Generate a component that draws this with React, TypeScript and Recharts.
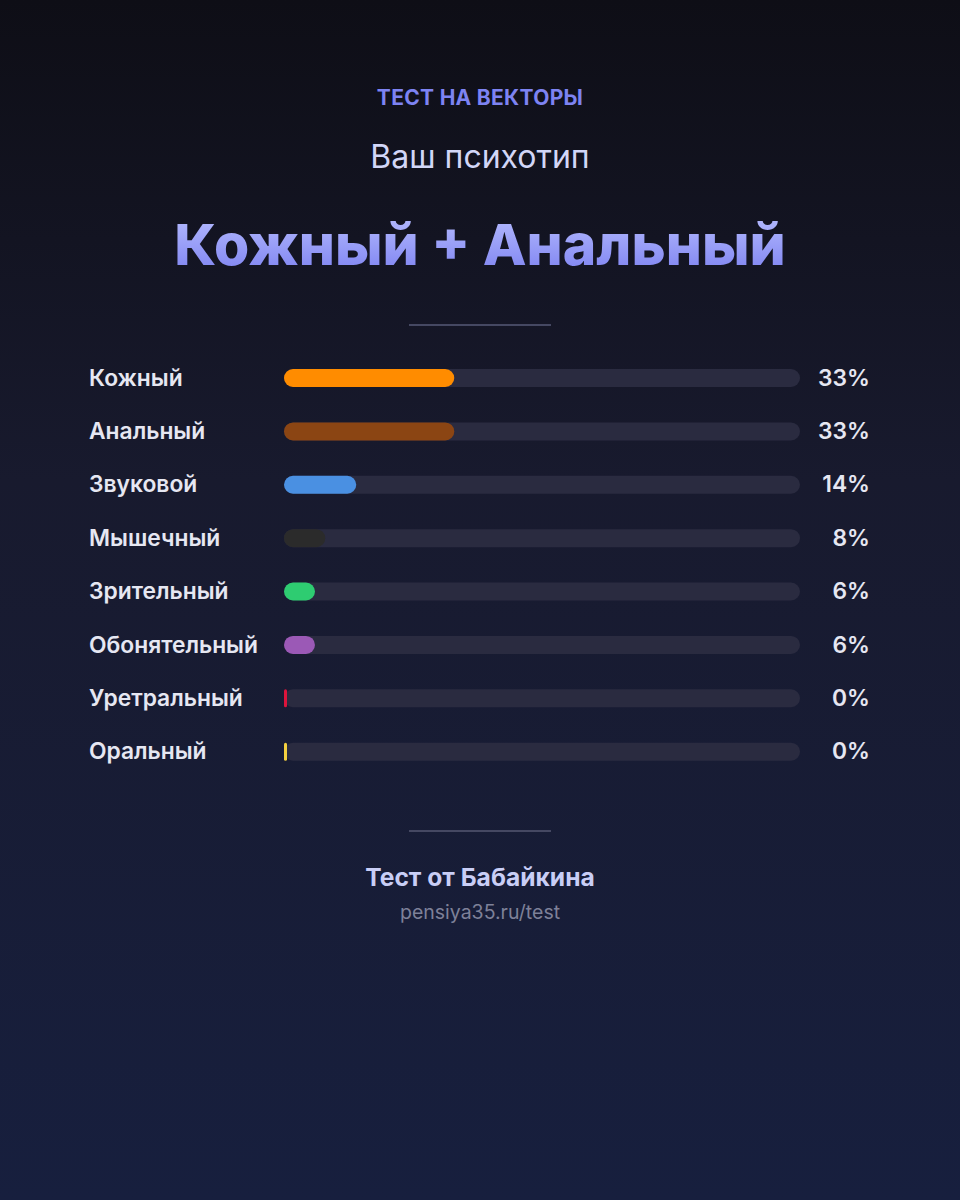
import { BarChart, Bar, XAxis, YAxis, Cell } from "recharts";

const vectors = ["Кожный", "Анальный", "Звуковой", "Мышечный", "Зрительный", "Обонятельный", "Уретральный", "Оральный"];
const percents = [33, 33, 14, 8, 6, 6, 0, 0];
const colors = ["#ff8c00", "#8b4513", "#4a90e2", "#2b2b2b", "#2ecc71", "#9b59b6", "#dc143c", "#f4d03f"];

const chartData = vectors.map((name, i) => ({ name, value: percents[i] }));

const font = "Inter, 'Noto Sans', sans-serif";

function BarShape(props: any) {
  const { x, y, width, height, fill } = props;
  const w = Math.max(width || 0, 3);
  const r = w < height ? 1.5 : height / 2;
  return <rect x={x} y={y} width={w} height={height} rx={r} ry={r} fill={fill} />;
}

function LeftTick(props: any) {
  const { y, payload } = props;
  return (
    <text x={89} y={y} dy={8} textAnchor="start" fill="#e6e7f2" fontSize={22.8} fontWeight={600} fontFamily={font}>
      {payload.value}
    </text>
  );
}

function RightTick(props: any) {
  const { y, index } = props;
  return (
    <text x={870} y={y} dy={8} textAnchor="end" fill="#e6e7f2" fontSize={22.8} fontWeight={600} fontFamily={font}>
      {percents[index]}%
    </text>
  );
}

function Center({ top, size, weight, color, children, style }: any) {
  return (
    <div
      style={{
        position: "absolute",
        left: 0,
        width: 960,
        top: top - size * 0.6,
        height: size * 1.2,
        lineHeight: `${size * 1.2}px`,
        textAlign: "center",
        fontSize: size,
        fontWeight: weight,
        color,
        fontFamily: font,
        ...style,
      }}
    >
      {children}
    </div>
  );
}

export default function App() {
  return (
    <div
      style={{
        position: "absolute",
        top: 0,
        left: 0,
        width: 960,
        height: 1200,
        overflow: "hidden",
        background: "linear-gradient(180deg, #0e0e16 0%, #181a2e 40%, #171f3e 100%)",
      }}
    >
      <Center top={98} size={21} weight={700} color="#7d83f2" style={{ letterSpacing: 0.3 }}>ТЕСТ НА ВЕКТОРЫ</Center>
      <Center top={157} size={32} weight={400} color="#d2d6f7">Ваш психотип</Center>
      <Center top={245} size={57} weight={800} color="#8c92f8">
        <span
          style={{
            background: "linear-gradient(180deg, #b9bfff 0%, #7a7ff0 100%)",
            WebkitBackgroundClip: "text",
            backgroundClip: "text",
            color: "transparent",
          }}
        >
          Кожный + Анальный
        </span>
      </Center>
      <div style={{ position: "absolute", left: 409, top: 324, width: 142, height: 2, background: "#454862" }} />

      <div style={{ position: "absolute", left: 0, top: 0 }}>
        <BarChart
          width={960}
          height={778}
          data={chartData}
          layout="vertical"
          margin={{ top: 351, right: 0, bottom: 0, left: 0 }}
          barCategoryGap={0}
        >
          <XAxis type="number" domain={[0, 100]} hide />
          <YAxis
            yAxisId="left"
            type="category"
            dataKey="name"
            width={284}
            axisLine={false}
            tickLine={false}
            tick={<LeftTick />}
            interval={0}
          />
          <YAxis
            yAxisId="right"
            orientation="right"
            type="category"
            dataKey="name"
            width={160}
            axisLine={false}
            tickLine={false}
            tick={<RightTick />}
            interval={0}
          />
          <Bar
            yAxisId="left"
            dataKey="value"
            barSize={18}
            background={{ fill: "#2a2b40", radius: 9 } as any}
            shape={<BarShape />}
            isAnimationActive={false}
          >
            {chartData.map((d, i) => (
              <Cell key={d.name} fill={colors[i]} />
            ))}
          </Bar>
        </BarChart>
      </div>

      <div style={{ position: "absolute", left: 409, top: 830, width: 142, height: 2, background: "#454862" }} />
      <Center top={878} size={24.6} weight={700} color="#c9cef6">Тест от Бабайкина</Center>
      <Center top={913} size={19.5} weight={400} color="#7e8199">pensiya35.ru/test</Center>
    </div>
  );
}
